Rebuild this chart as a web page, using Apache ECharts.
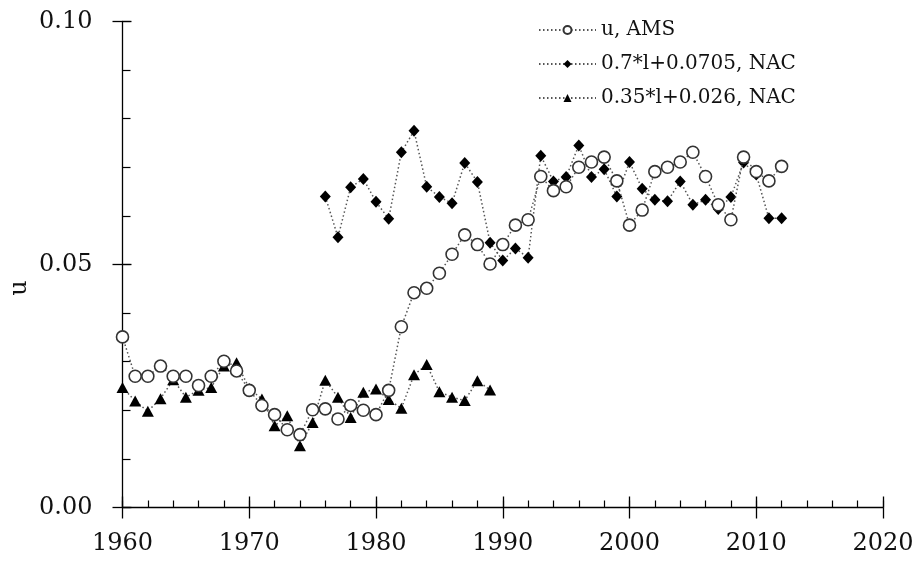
<!DOCTYPE html>
<html>
<head>
<meta charset="utf-8">
<script src="https://cdn.jsdelivr.net/npm/echarts@6/dist/echarts.min.js"></script>
<style>
  html, body { margin: 0; padding: 0; background: #fff; }
  #chart { width: 922px; height: 561px; }
</style>
</head>
<body>
<div id="chart"></div>
<script>
// u, AMS: yearly values 1960-2012
const amsStart = 1960;
const amsValues = [
  0.0351, 0.0270, 0.0270, 0.0291, 0.0270, 0.0270, 0.0251, 0.0270, 0.0301, 0.0281,
  0.0241, 0.0210, 0.0191, 0.0160, 0.0150, 0.0201, 0.0203, 0.0182, 0.0210, 0.0200,
  0.0191, 0.0241, 0.0372, 0.0442, 0.0451, 0.0482, 0.0521, 0.0561, 0.0541, 0.0501,
  0.0541, 0.0581, 0.0592, 0.0681, 0.0652, 0.0660, 0.0700, 0.0711, 0.0721, 0.0672,
  0.0581, 0.0612, 0.0691, 0.0700, 0.0711, 0.0731, 0.0681, 0.0623, 0.0592, 0.0721,
  0.0691, 0.0672, 0.0702
];

// 0.7*l+0.0705, NAC: 1976-2012
const nacHighStart = 1976;
const nacHighValues = [
  0.0640, 0.0556, 0.0659, 0.0676, 0.0629, 0.0594, 0.0731, 0.0775, 0.0660, 0.0639,
  0.0626, 0.0709, 0.0670, 0.0545, 0.0508, 0.0533, 0.0514, 0.0724, 0.0671, 0.0680,
  0.0745, 0.0680, 0.0696, 0.0640, 0.0711, 0.0656, 0.0633, 0.0630, 0.0671, 0.0623,
  0.0633, 0.0614, 0.0639, 0.0710, 0.0685, 0.0595, 0.0595
];

// 0.35*l+0.026, NAC: 1960-1989
const nacLowStart = 1960;
const nacLowValues = [
  0.0247, 0.0219, 0.0198, 0.0224, 0.0263, 0.0227, 0.0241, 0.0247, 0.0291, 0.0298,
  0.0245, 0.0223, 0.0168, 0.0189, 0.0127, 0.0175, 0.0262, 0.0227, 0.0185, 0.0237,
  0.0244, 0.0222, 0.0204, 0.0273, 0.0294, 0.0238, 0.0227, 0.0220, 0.0261, 0.0242
];

const seriesNames = ['u, AMS', '0.7*l+0.0705, NAC', '0.35*l+0.026, NAC'];
const xTicks = [1960, 1970, 1980, 1990, 2000, 2010, 2020];
const yTicks = [0.00, 0.05, 0.10];

const FONT = 'DejaVu Serif';
const toPairs = (start, vals) => vals.map((v, i) => [start + i, v]);

const lineStyle = { color: '#555', width: 1.5, type: [1.5, 2.5] };

const xBase = { type: 'value', min: xTicks[0], max: xTicks[xTicks.length - 1], position: 'bottom', splitLine: { show: false } };
const yBase = { type: 'value', min: yTicks[0], max: yTicks[yTicks.length - 1], position: 'left', splitLine: { show: false } };

const chart = echarts.init(document.getElementById('chart'));
chart.setOption({
  animation: false,
  grid: { left: 122.5, right: 39, top: 21.5, bottom: 53.5 },
  legend: {
    left: 533,
    top: 15,
    orient: 'vertical',
    itemWidth: 57,
    itemHeight: 10,
    itemGap: 14,
    textStyle: { fontFamily: FONT, fontSize: 20, color: '#111' },
    data: seriesNames
  },
  xAxis: [
    Object.assign({}, xBase, {
      interval: 10,
      axisLine: { lineStyle: { color: '#000', width: 1.3 } },
      axisTick: { inside: true, length: 11, lineStyle: { color: '#000', width: 1.3 } },
      axisLabel: { margin: 24, fontFamily: FONT, fontSize: 24, color: '#111', formatter: v => String(v) }
    }),
    Object.assign({}, xBase, {
      interval: 10,
      axisLine: { show: false },
      axisTick: { inside: false, length: 11, lineStyle: { color: '#000', width: 1.3 } },
      axisLabel: { show: false }
    }),
    Object.assign({}, xBase, {
      interval: 2,
      axisLine: { show: false },
      axisTick: { inside: true, length: 7, lineStyle: { color: '#000', width: 1.2 } },
      axisLabel: { show: false }
    })
  ],
  yAxis: [
    Object.assign({}, yBase, {
      interval: 0.05,
      axisLine: { show: true, lineStyle: { color: '#000', width: 1.3 } },
      axisTick: { show: true, inside: true, length: 9, lineStyle: { color: '#000', width: 1.3 } },
      axisLabel: { margin: 30, fontFamily: FONT, fontSize: 24, color: '#111', formatter: v => v.toFixed(2) }
    }),
    Object.assign({}, yBase, {
      interval: 0.05,
      axisLine: { show: false },
      axisTick: { show: true, inside: false, length: 10, lineStyle: { color: '#000', width: 1.3 } },
      axisLabel: { show: false }
    }),
    Object.assign({}, yBase, {
      interval: 0.01,
      axisLine: { show: false },
      axisTick: { show: true, inside: true, length: 8, lineStyle: { color: '#000', width: 1.2 } },
      axisLabel: { show: false }
    })
  ],
  graphic: [{
    type: 'text',
    x: 20,
    y: 288,
    rotation: Math.PI / 2,
    style: { text: 'u', font: '24px "DejaVu Serif"', fill: '#111', align: 'center', verticalAlign: 'middle' }
  }],
  series: [
    {
      name: seriesNames[2], type: 'line', data: toPairs(nacLowStart, nacLowValues),
      symbol: 'triangle', symbolSize: [12, 11], showAllSymbol: true,
      lineStyle: lineStyle, itemStyle: { color: '#000' }, z: 2
    },
    {
      name: seriesNames[1], type: 'line', data: toPairs(nacHighStart, nacHighValues),
      symbol: 'diamond', symbolSize: [11, 12], showAllSymbol: true,
      lineStyle: lineStyle, itemStyle: { color: '#000' }, z: 3
    },
    {
      name: seriesNames[0], type: 'line', data: toPairs(amsStart, amsValues),
      symbol: 'circle', symbolSize: 12, showAllSymbol: true,
      lineStyle: lineStyle, itemStyle: { color: '#fff', borderColor: '#333', borderWidth: 1.6 }, z: 4
    }
  ]
});
</script>
</body>
</html>
